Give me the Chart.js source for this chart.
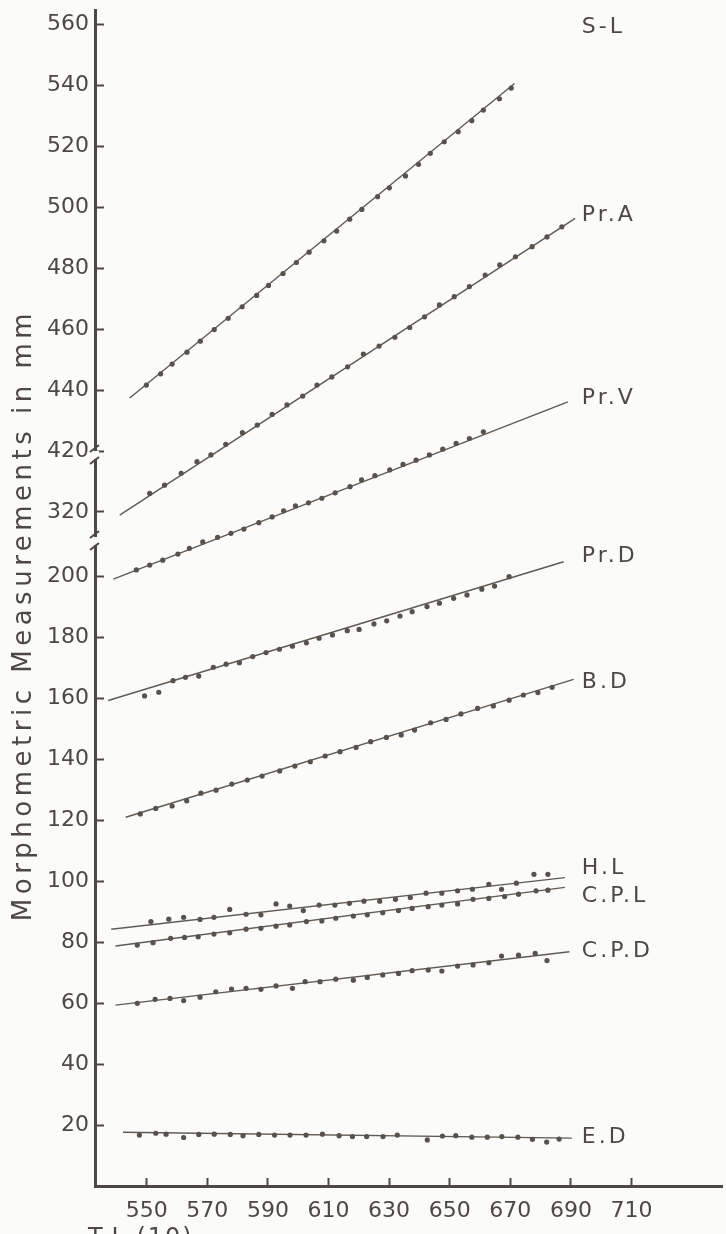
<!DOCTYPE html>
<html>
<head>
<meta charset="utf-8">
<title>Morphometric measurements</title>
<script src="https://cdn.jsdelivr.net/npm/chart.js@4.4.0/dist/chart.umd.min.js"></script>
<style>
  html, body { margin: 0; padding: 0; background: #fbfbf9; }
  canvas { display: block; }
</style>
</head>
<body>
<canvas id="chart" width="726" height="1234"></canvas>
<script>
//Readings taken off the figure. x = T.L (10), y = measurement in mm
//(values above 300 belong to the broken parts of the y axis)

const slX = [549.9, 554.6, 558.4, 563.3, 567.7, 572.3, 576.9, 581.5, 586.3, 590.2, 595.0, 599.4, 603.6, 608.5, 612.7, 617.0, 621.0, 626.2, 630.1, 635.4, 639.7, 643.6, 648.2, 652.8, 657.3, 661.1, 666.4, 670.3];
const slY = [441.6, 445.3, 448.5, 452.4, 456.0, 459.8, 463.5, 467.3, 471.0, 474.3, 478.2, 481.8, 485.2, 488.9, 492.1, 496.0, 499.2, 503.4, 506.3, 510.2, 514.0, 517.6, 521.4, 524.7, 528.3, 531.8, 535.5, 539.0];
const slFit = [[544.4, 437.4], [671.4, 540.5]];

const praX = [551.0, 555.9, 561.4, 566.6, 571.2, 576.1, 581.6, 586.5, 591.4, 596.3, 601.5, 606.2, 611.1, 616.3, 621.5, 626.7, 631.9, 636.8, 641.7, 646.6, 651.5, 656.5, 661.7, 666.5, 671.7, 677.2, 682.1, 687.0];
const praY = [326.1, 328.8, 332.7, 336.5, 338.7, 422.2, 426.0, 428.5, 432.0, 435.1, 438.0, 441.6, 444.3, 447.6, 451.8, 454.4, 457.3, 460.5, 464.0, 467.9, 470.6, 473.9, 477.7, 481.0, 483.7, 487.0, 490.2, 493.5];
const praFit = [[541.1, 319.0], [691.4, 496.3]];

const prvX = [546.6, 551.0, 555.3, 560.3, 564.1, 568.5, 573.4, 577.8, 582.1, 587.0, 591.4, 595.2, 599.1, 603.4, 607.8, 612.2, 617.1, 620.9, 625.3, 630.2, 634.6, 638.9, 643.3, 647.7, 652.1, 656.5, 661.1];
const prvY = [202.0, 203.6, 304.2, 306.2, 308.1, 310.2, 311.7, 313.0, 314.4, 316.5, 318.4, 320.4, 322.0, 323.0, 324.5, 326.3, 328.3, 330.5, 331.9, 333.8, 335.6, 337.0, 338.7, 420.6, 422.5, 424.1, 426.3];
const prvFit = [[539.0, 199.0], [689.0, 436.1]];

const prdX = [549.3, 554.0, 558.7, 562.8, 567.2, 572.0, 576.2, 580.6, 585.0, 589.4, 593.8, 598.1, 602.7, 606.9, 611.3, 616.2, 620.1, 625.0, 629.2, 633.6, 637.6, 642.5, 646.6, 651.3, 655.7, 660.6, 664.8, 669.6];
const prdY = [160.7, 161.9, 165.7, 166.8, 167.2, 170.1, 171.1, 171.6, 173.6, 174.9, 176.0, 177.0, 178.1, 179.6, 180.7, 182.1, 182.5, 184.3, 185.3, 186.9, 188.3, 190.0, 191.1, 192.7, 193.8, 195.7, 196.7, 199.8];
const prdFit = [[537.3, 159.2], [687.6, 204.7]];

const bdX = [547.9, 553.0, 558.4, 563.2, 567.9, 572.9, 578.1, 583.2, 588.1, 593.9, 598.9, 604.0, 608.9, 613.8, 619.1, 623.9, 629.1, 634.0, 638.4, 643.7, 648.8, 653.7, 659.2, 664.4, 669.6, 674.3, 679.1, 683.8];
const bdY = [122.0, 123.8, 124.6, 126.3, 128.8, 129.8, 131.8, 133.1, 134.4, 136.1, 137.7, 139.1, 141.0, 142.4, 143.8, 145.7, 147.1, 147.9, 149.5, 151.9, 153.0, 154.8, 156.6, 157.4, 159.3, 161.0, 161.8, 163.5];
const bdFit = [[543.1, 120.9], [690.9, 166.1]];

const hlX = [551.4, 557.3, 562.2, 567.6, 572.2, 577.4, 582.8, 587.7, 592.7, 597.2, 601.7, 606.9, 612.1, 616.9, 621.7, 626.9, 632.1, 637.0, 642.2, 647.4, 652.6, 657.5, 662.9, 667.1, 672.0, 677.8, 682.4];
const hlY = [86.7, 87.5, 88.1, 87.4, 88.1, 90.7, 89.1, 88.9, 92.5, 91.8, 90.3, 92.1, 92.1, 92.7, 93.4, 93.4, 94.0, 94.6, 96.0, 96.0, 96.8, 97.3, 98.9, 97.3, 99.3, 102.2, 102.2];
const hlFit = [[538.3, 84.2], [688.0, 101.1]];

const cplX = [546.9, 552.1, 557.9, 562.5, 567.0, 572.2, 577.4, 582.8, 587.7, 592.7, 597.2, 602.7, 607.8, 612.4, 618.2, 622.8, 627.9, 633.1, 637.6, 642.9, 647.4, 652.6, 657.7, 662.9, 668.1, 672.7, 678.5, 682.4];
const cplY = [79.0, 79.8, 81.2, 81.5, 81.7, 82.6, 83.0, 84.2, 84.5, 85.2, 85.6, 86.7, 86.9, 87.8, 88.5, 88.9, 89.6, 90.3, 91.0, 91.6, 92.1, 92.5, 94.0, 94.3, 94.9, 95.7, 96.8, 97.0];
const cplFit = [[539.7, 78.7], [688.0, 97.9]];

const cpdX = [546.9, 552.8, 557.7, 562.2, 567.6, 572.8, 578.0, 582.8, 587.7, 592.7, 598.1, 602.3, 607.2, 612.4, 618.2, 622.8, 627.9, 633.1, 637.6, 642.9, 647.4, 652.6, 657.7, 662.9, 667.1, 672.7, 678.2, 682.1];
const cpdY = [59.9, 61.2, 61.5, 60.8, 61.9, 63.7, 64.6, 64.8, 64.5, 65.6, 64.8, 67.0, 67.0, 67.8, 67.5, 68.4, 69.2, 69.7, 70.6, 70.8, 70.5, 72.1, 72.5, 73.2, 75.4, 75.7, 76.3, 73.9];
const cpdFit = [[539.7, 59.3], [689.5, 76.8]];

const edX = [547.6, 553.0, 556.4, 562.2, 567.2, 572.3, 577.6, 581.8, 587.0, 592.2, 597.3, 602.6, 608.0, 613.5, 617.9, 622.6, 628.0, 632.7, 642.6, 647.6, 652.0, 657.3, 662.4, 667.2, 672.5, 677.3, 682.0, 686.1];
const edY = [16.7, 17.3, 17.0, 15.9, 16.9, 17.0, 16.9, 16.5, 16.9, 16.7, 16.7, 16.7, 17.0, 16.5, 16.2, 16.2, 16.2, 16.7, 15.1, 16.4, 16.5, 16.0, 16.0, 16.2, 16.0, 15.3, 14.4, 15.4];
const edFit = [[542.2, 17.6], [690.3, 15.7]];

const seriesNames = ['S-L', 'Pr.A', 'Pr.V', 'Pr.D', 'B.D', 'H.L', 'C.P.L', 'C.P.D', 'E.D'];
const xTicks = [550, 570, 590, 610, 630, 650, 670, 690, 710];
const yTickLabels = [20, 40, 60, 80, 100, 120, 140, 160, 180, 200, 320, 420, 440, 460, 480, 500, 520, 540, 560];

//The y axis is broken twice: 300s are pulled down by 99, 400s and 500s by 179

function toPlot(v){
  if (v >= 400) return v - 179;
  if (v >= 300) return v - 99;
  return v;
}

const series = [
  {x: slX, y: slY, fit: slFit},
  {x: praX, y: praY, fit: praFit},
  {x: prvX, y: prvY, fit: prvFit},
  {x: prdX, y: prdY, fit: prdFit},
  {x: bdX, y: bdY, fit: bdFit},
  {x: hlX, y: hlY, fit: hlFit},
  {x: cplX, y: cplY, fit: cplFit},
  {x: cpdX, y: cpdY, fit: cpdFit},
  {x: edX, y: edY, fit: edFit}
];

//Styles

const paper = '#fbfbf9';
const ink = '#4d4843';
const dotInk = '#57524c';
const lineInk = '#5f5a54';
const labelShift = [-56, -3, -4, -5, 3, -9, 9, 0, -1];
const breaksAt = [211.5, 239.7];

const datasets = [];
series.forEach(s => {
  datasets.push({
    data: s.x.map((v, i) => ({x: v, y: toPlot(s.y[i])})),
    showLine: false,
    pointRadius: 2.6,
    pointBorderWidth: 0,
    pointBackgroundColor: dotInk
  });
  datasets.push({
    data: s.fit.map(p => ({x: p[0], y: toPlot(p[1])})),
    showLine: true,
    borderColor: lineInk,
    borderWidth: 1.4,
    pointRadius: 0
  });
});

//Everything the axes cannot do: paper, breaks, series names, y title

const decor = {
  id: 'decor',
  beforeDraw(chart){
    const ctx = chart.ctx;
    ctx.save();
    ctx.fillStyle = paper;
    ctx.fillRect(0, 0, chart.width, chart.height);
    ctx.restore();
  },
  afterDraw(chart){
    const ctx = chart.ctx;
    const x = chart.scales.x;
    const y = chart.scales.y;
    const ax = chart.chartArea.left;
    ctx.save();

    breaksAt.forEach(b => {
      const py = y.getPixelForValue(b);
      ctx.fillStyle = paper;
      ctx.fillRect(ax - 4, py - 4, 8, 8);
      ctx.strokeStyle = ink;
      ctx.lineWidth = 2;
      ctx.beginPath();
      ctx.moveTo(ax - 5, py - 3);
      ctx.lineTo(ax + 4, py - 10);
      ctx.moveTo(ax - 5, py + 9);
      ctx.lineTo(ax + 4, py + 2);
      ctx.stroke();
    });

    ctx.fillStyle = ink;
    ctx.font = '22px "DejaVu Sans"';
    ctx.letterSpacing = '3px';
    ctx.textAlign = 'left';
    ctx.textBaseline = 'middle';
    const lx = x.getPixelForValue(693.6);
    series.forEach((s, i) => {
      const py = y.getPixelForValue(toPlot(s.fit[1][1])) + labelShift[i];
      ctx.fillText(seriesNames[i], lx, py);
    });

    ctx.font = '24px "DejaVu Sans"';
    ctx.letterSpacing = '2px';
    ctx.textBaseline = 'top';
    ctx.fillText('T.L (10)', 88, 1227);

    ctx.translate(24, 615);
    ctx.rotate(-Math.PI / 2);
    ctx.font = '26px "DejaVu Sans"';
    ctx.letterSpacing = '4.5px';
    ctx.textAlign = 'center';
    ctx.textBaseline = 'middle';
    ctx.fillText('Morphometric Measurements in mm', 0, 0);
    ctx.restore();
  }
};

const tickFont = {family: 'DejaVu Sans', size: 22};

new Chart(document.getElementById('chart'), {
  type: 'scatter',
  data: {datasets: datasets},
  options: {
    responsive: false,
    animation: false,
    events: [],
    layout: {padding: {top: 10, left: 0, right: 0, bottom: 0}},
    plugins: {legend: {display: false}, tooltip: {enabled: false}},
    scales: {
      x: {
        type: 'linear',
        min: 532.95,
        max: 739.85,
        afterBuildTicks: s => { s.ticks = xTicks.map(v => ({value: v})); },
        afterFit: s => { s.height = 48; s.paddingLeft = 0; s.paddingRight = 0; },
        grid: {drawOnChartArea: false, tickLength: -8, tickWidth: 2, tickColor: ink},
        border: {color: ink, width: 3},
        ticks: {color: ink, font: tickFont, padding: 20, autoSkip: false, maxRotation: 0}
      },
      y: {
        type: 'linear',
        min: 0,
        max: 385.6,
        afterBuildTicks: s => { s.ticks = yTickLabels.map(v => ({value: toPlot(v)})); },
        afterFit: s => { s.width = 95; s.paddingTop = 0; s.paddingBottom = 0; },
        grid: {drawOnChartArea: false, tickLength: -9, tickWidth: 2, tickColor: ink},
        border: {color: ink, width: 3},
        ticks: {color: ink, font: tickFont, padding: 15, autoSkip: false, callback: (v, i) => String(yTickLabels[i])}
      }
    }
  },
  plugins: [decor]
});
</script>
</body>
</html>
